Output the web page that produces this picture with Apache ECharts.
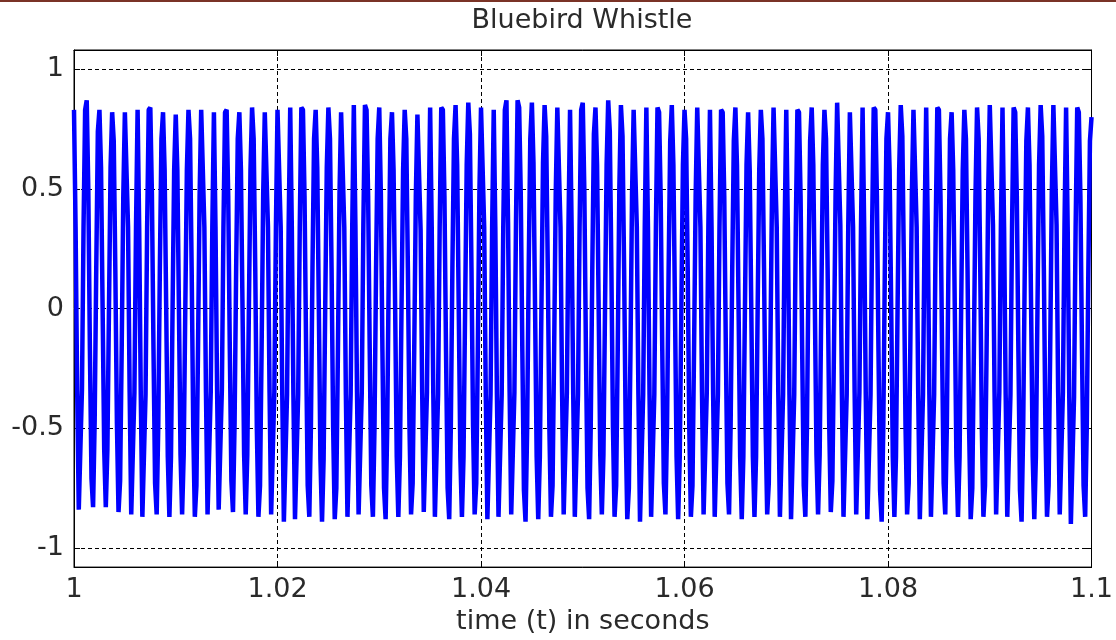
<!DOCTYPE html>
<html>
<head>
<meta charset="utf-8">
<title>Bluebird Whistle</title>
<script src="https://cdn.jsdelivr.net/npm/echarts@6/dist/echarts.min.js"></script>
<style>
  html, body { margin: 0; padding: 0; background: #fff; }
  #chart { width: 1116px; height: 640px; }
</style>
</head>
<body>
<div id="chart"></div>
<script>
// whistle samples, one row = one cycle (8 samples)
var startTime = 1;
var sampleRate = 6400;
var samples = [
  .83,.34,-.34,-.84,-.84,-.34,.34,.83,
  .87,.50,-.17,-.71,-.83,-.47,.17,.74,
  .83,.59,0,-.59,-.83,-.59,0,.59,
  .82,.70,.16,-.48,-.85,-.72,-.17,.47,
  .82,.82,.34,-.35,-.86,-.86,-.35,.34,
  .83,.34,-.36,-.87,-.87,-.36,.34,.83,
  .84,.48,-.17,-.73,-.86,-.49,.17,.71,
  .82,.58,0,-.62,-.87,-.62,0,.58,
  .81,.58,0,-.61,-.86,-.61,0,.58,
  .83,.71,.17,-.50,-.87,-.74,-.17,.47,
  .83,.83,.34,-.35,-.86,-.86,-.35,.34,
  .82,.34,-.34,-.84,-.84,-.34,.34,.82,
  .83,.47,-.17,-.72,-.85,-.48,.17,.71,
  .82,.58,0,-.61,-.86,-.61,0,.58,
  .84,.71,.17,-.50,-.87,-.74,-.17,.48,
  .82,.82,.34,-.35,-.86,-.86,-.35,.34,
  .83,.83,.34,-.36,-.89,-.89,-.36,.34,
  .84,.34,-.36,-.88,-.88,-.36,.34,.84,
  .83,.47,-.17,-.74,-.87,-.50,.17,.71,
  .83,.59,0,-.63,-.89,-.63,0,.59,
  .84,.71,.17,-.50,-.88,-.75,-.18,.48,
  .82,.82,.34,-.36,-.87,-.87,-.36,.34,
  .85,.35,-.35,-.86,-.86,-.35,.35,.85,
  .83,.47,-.17,-.74,-.87,-.50,.17,.71,
  .84,.48,-.18,-.75,-.88,-.50,.17,.71,
  .82,.58,0,-.62,-.87,-.62,0,.58,
  .83,.71,.17,-.49,-.86,-.73,-.17,.47,
  .81,.81,.33,-.35,-.85,-.85,-.35,.33,
  .84,.34,-.36,-.87,-.87,-.36,.34,.84,
  .83,.47,-.18,-.75,-.88,-.50,.17,.71,
  .85,.60,0,-.62,-.87,-.62,0,.60,
  .86,.73,.17,-.49,-.86,-.73,-.17,.49,
  .84,.84,.34,-.36,-.88,-.88,-.36,.34,
  .83,.34,-.36,-.87,-.87,-.36,.34,.83,
  .87,.36,-.35,-.86,-.86,-.35,.36,.87,
  .84,.48,-.18,-.76,-.89,-.51,.17,.71,
  .86,.61,0,-.62,-.88,-.62,0,.61,
  .85,.72,.17,-.50,-.87,-.74,-.17,.48,
  .84,.84,.34,-.35,-.86,-.86,-.35,.34,
  .83,.34,-.36,-.87,-.87,-.36,.34,.83,
  .86,.49,-.18,-.75,-.88,-.50,.17,.73,
  .84,.60,0,-.61,-.86,-.61,0,.60,
  .87,.74,.17,-.50,-.87,-.74,-.17,.50,
  .85,.72,.17,-.50,-.88,-.75,-.18,.48,
  .83,.83,.34,-.36,-.89,-.89,-.36,.34,
  .84,.34,-.36,-.87,-.87,-.36,.34,.84,
  .82,.47,-.17,-.73,-.86,-.49,.16,.70,
  .85,.60,0,-.62,-.88,-.62,0,.60,
  .83,.71,.17,-.50,-.87,-.74,-.17,.47,
  .84,.84,.34,-.35,-.86,-.86,-.35,.34,
  .83,.34,-.36,-.87,-.87,-.36,.34,.83,
  .82,.47,-.17,-.73,-.86,-.49,.16,.70,
  .84,.60,0,-.62,-.88,-.62,0,.60,
  .82,.58,0,-.62,-.87,-.62,0,.58,
  .83,.71,.17,-.49,-.86,-.73,-.17,.47,
  .84,.84,.34,-.36,-.87,-.87,-.36,.34,
  .83,.34,-.36,-.88,-.88,-.36,.34,.83,
  .82,.47,-.17,-.74,-.87,-.50,.16,.70,
  .84,.60,0,-.61,-.86,-.61,0,.60,
  .83,.71,.17,-.48,-.85,-.72,-.17,.47,
  .86,.86,.35,-.36,-.87,-.87,-.36,.35,
  .82,.82,.34,-.35,-.86,-.86,-.35,.34,
  .84,.34,-.36,-.88,-.88,-.36,.34,.84,
  .83,.47,-.18,-.76,-.89,-.51,.17,.71,
  .82,.58,0,-.62,-.87,-.62,0,.58,
  .85,.72,.17,-.49,-.86,-.73,-.17,.48,
  .83,.83,.34,-.36,-.88,-.88,-.36,.34,
  .84,.34,-.36,-.87,-.87,-.36,.34,.84,
  .83,.47,-.17,-.73,-.86,-.49,.17,.71,
  .82,.58,0,-.62,-.87,-.62,0,.58,
  .83,.71,.17,-.50,-.88,-.75,-.18,.47,
  .84,.71,.17,-.50,-.87,-.74,-.17,.48,
  .85,.85,.35,-.35,-.86,-.86,-.35,.35,
  .84,.34,-.36,-.87,-.87,-.36,.34,.84,
  .82,.47,-.18,-.76,-.89,-.51,.16,.70,
  .84,.60,0,-.62,-.88,-.62,0,.60,
  .85,.72,.17,-.50,-.87,-.74,-.17,.48,
  .85,.85,.35,-.35,-.86,-.86,-.35,.35,
  .84,.34,-.37,-.90,-.90,-.37,.34,.84,
  .82,.47,-.17,-.74,-.87,-.50,.16,.70,
  .80
];
var xTicks = [1, 1.02, 1.04, 1.06, 1.08, 1.1];
var xTickLabels = ['1', '1.02', '1.04', '1.06', '1.08', '1.1'];
var yTicks = [-1, -0.5, 0, 0.5, 1];
var yTickLabels = ['-1', '-0.5', '0', '0.5', '1'];

var FONT = 'DejaVu Sans';

function tickLabel(ticks, labels) {
    return function (v) {
        for (var i = 0; i < ticks.length; i++) {
            if (Math.abs(v - ticks[i]) < 1e-6) return labels[i];
        }
        return '';
    };
}

var points = samples.map(function (v, i) {
    return [startTime + i / sampleRate, v];
});

var chart = echarts.init(document.getElementById('chart'));
chart.setOption({
    animation: false,
    backgroundColor: '#fff',
    graphic: [
        {
            type: 'rect',
            shape: { x: 0, y: 0, width: 1116, height: 2 },
            style: { fill: '#7a3326' }
        },
        {
            type: 'text',
            x: 582,
            y: 21,
            style: {
                text: 'Bluebird Whistle',
                align: 'center',
                verticalAlign: 'middle',
                fontFamily: FONT,
                fontSize: 27,
                fill: '#2a2a2a'
            }
        }
    ],
    grid: {
        left: 74,
        right: 20,
        top: 50,
        bottom: 70,
        show: true,
        borderColor: '#000',
        borderWidth: 1
    },
    xAxis: [
        {
            type: 'value',
            min: 1,
            max: 1.1,
            interval: 0.02,
            name: 'time (t) in seconds',
            nameLocation: 'middle',
            nameGap: 39,
            nameTextStyle: { fontFamily: FONT, fontSize: 27, color: '#2a2a2a' },
            axisLine: { onZero: false, lineStyle: { color: '#000', width: 1 } },
            axisTick: { inside: true, length: 6, lineStyle: { color: '#000' } },
            axisLabel: {
                margin: 9,
                fontFamily: FONT,
                fontSize: 27,
                color: '#2a2a2a',
                formatter: tickLabel(xTicks, xTickLabels)
            },
            splitLine: { show: true, lineStyle: { color: '#000', width: 1, type: [4, 3] } }
        },
        {
            type: 'value',
            position: 'top',
            min: 1,
            max: 1.1,
            interval: 0.02,
            axisLine: { onZero: false, lineStyle: { color: '#000', width: 1 } },
            axisTick: { inside: true, length: 6, lineStyle: { color: '#000' } },
            axisLabel: { show: false },
            splitLine: { show: false }
        }
    ],
    yAxis: [
        {
            type: 'value',
            min: -1.08,
            max: 1.08,
            splitNumber: 5,
            axisLine: { show: true, onZero: false, lineStyle: { color: '#000', width: 1 } },
            axisTick: { show: true, inside: true, length: 6, lineStyle: { color: '#000' } },
            axisLabel: {
                margin: 10,
                fontFamily: FONT,
                fontSize: 27,
                color: '#2a2a2a',
                formatter: tickLabel(yTicks, yTickLabels)
            },
            splitLine: { show: true, lineStyle: { color: '#000', width: 1, type: [4, 3] } }
        },
        {
            type: 'value',
            position: 'right',
            min: -1.08,
            max: 1.08,
            splitNumber: 5,
            axisLine: { show: true, onZero: false, lineStyle: { color: '#000', width: 1 } },
            axisTick: { show: true, inside: true, length: 6, lineStyle: { color: '#000' } },
            axisLabel: { show: false },
            splitLine: { show: false }
        }
    ],
    series: [
        {
            type: 'line',
            data: points,
            showSymbol: false,
            symbol: 'none',
            sampling: null,
            lineStyle: { color: '#0000ff', width: 4.5, join: 'bevel', cap: 'butt' },
            z: 3
        }
    ]
});
</script>
</body>
</html>
